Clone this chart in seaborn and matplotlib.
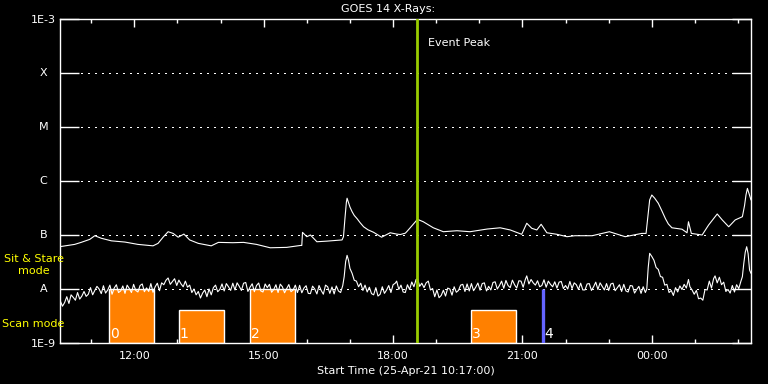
import numpy as np
import pandas as pd
import matplotlib
matplotlib.use("Agg")
import matplotlib.pyplot as plt
import matplotlib.dates as mdates
import matplotlib.ticker as mticker
import matplotlib.transforms as mtransforms
import seaborn as sns

# Data, time in minutes after start
START = pd.Timestamp("2021-04-25 10:17:00")
END_MIN = 961

long_minutes = [0, 20, 29, 41, 48, 57, 71, 90, 108, 129,
                136, 143, 150, 157, 164, 172, 180, 192, 210, 220,
                240, 255, 273, 292, 315, 334, 336, 337, 343, 348,
                357, 371, 392, 394, 396, 398, 399, 403, 406, 409,
                413, 417, 422, 428, 436, 447, 459, 468, 473, 480,
                482, 489, 497, 505, 519, 533, 552, 570, 594, 612,
                626, 642, 649, 656, 663, 669, 677, 691, 705, 716,
                740, 764, 786, 809, 815, 820, 823, 827, 832, 837,
                842, 846, 851, 865, 872, 874, 878, 893, 902, 914,
                921, 930, 939, 949, 952, 954, 956, 958, 961]
long_flux_e8 = [6.1, 6.7, 7.3, 8.3, 9.7, 8.7, 7.8, 7.4, 6.7, 6.3,
                7.0, 9.1, 11.5, 10.7, 9.1, 10.4, 8.1, 7.0, 6.3, 7.3,
                7.2, 7.3, 6.7, 5.8, 5.9, 6.4, 6.4, 11.2, 9.3, 10.0,
                7.5, 7.7, 8.1, 9.3, 20.0, 40.0, 48.0, 33.0, 27.0, 23.0,
                20.0, 17.0, 14.2, 12.5, 11.2, 9.1, 11.0, 10.4, 10.2, 10.8,
                11.5, 14.7, 19.5, 17.6, 13.6, 11.5, 12.0, 11.5, 12.9, 13.6,
                12.4, 10.3, 16.5, 13.3, 12.4, 15.8, 11.0, 10.3, 9.3, 9.7,
                9.7, 11.5, 9.3, 10.7, 10.7, 44.5, 55.0, 48.0, 38.7, 28.0,
                20.0, 16.0, 13.6, 12.8, 11.0, 17.6, 10.7, 10.0, 15.3, 24.5,
                19.0, 14.2, 19.0, 21.8, 35.0, 55.0, 73.0, 60.0, 44.5]

short_minutes = [0, 3, 6, 9, 12, 15, 18, 21, 24, 27, 30, 33, 36, 39,
                 42, 45, 48, 51, 54, 57, 60, 63, 66, 69, 72, 75, 78, 81, 84, 87,
                 90, 93, 96, 99, 102, 105, 108, 111, 114, 117, 120, 123, 126, 129, 132, 135, 138,
                 141, 144, 147, 150, 153, 156, 159, 162, 165, 168, 171, 174,
                 177, 180, 183, 186, 189, 192, 195, 198, 201, 204, 207, 210,
                 213, 216, 219, 222, 225, 228, 231, 234, 237, 240,
                 243, 246, 249, 252, 255, 258, 261, 264, 267, 270, 273, 276, 279, 282, 285,
                 288, 291, 294, 297, 300, 303, 306, 309, 312, 315, 318, 321, 324, 327, 330,
                 333, 336, 339, 342, 345, 348, 351, 354, 357, 360, 363, 366, 369, 372, 375,
                 378, 381, 384, 387, 390, 393,
                 395, 397, 399, 401, 403, 406, 409, 412, 415, 418, 421, 424, 427, 430, 433,
                 436, 439, 442, 445, 448, 451, 454, 457, 460, 463, 466, 468, 471, 474, 477,
                 480, 483, 486, 489, 492, 495, 497, 500, 503, 506, 509, 512, 515, 518, 521,
                 524, 527, 530, 533, 536, 539, 542, 545, 548, 551, 554, 557, 560, 563, 566,
                 569, 572, 575, 578, 581, 584, 587, 590, 593, 596, 599, 602, 605, 608, 611,
                 614, 617, 620, 623, 626, 629, 632, 635, 638, 641, 644, 647, 649, 652, 655,
                 658, 661, 664, 667, 670, 673, 676, 679, 682, 685, 688, 691, 694, 697, 700,
                 703, 706, 709, 712, 715, 718, 721, 724, 727, 730, 733, 736, 739, 742, 745,
                 748, 751, 754, 757, 760, 763, 766, 769, 772, 775, 778, 781, 784, 787, 790,
                 793, 796, 799, 802, 805, 808, 811, 814, 816,
                 818, 820, 823, 826, 829, 832, 835, 838, 841, 844, 847, 850, 853, 856, 859,
                 862, 865, 868, 871, 874, 876, 879, 882, 885, 888, 891, 894, 897, 900, 903,
                 906, 909, 911, 914, 917, 920, 923, 926, 929, 932, 935, 938, 941, 944, 947,
                 949, 951, 953, 955, 957, 959, 961]
short_flux_e9 = [6.0, 4.8, 5.6, 7.2, 5.4, 7.8, 7.0, 6.2, 8.6, 6.5, 7.4, 9.0, 7.3, 8.0,
                 10.6, 7.8, 9.4, 11.2, 10.0, 8.2, 11.5, 8.4, 9.6, 11.8, 8.0, 10.4, 12.0, 8.6, 9.2, 11.4,
                 8.3, 11.8, 10.2, 8.6, 12.2, 9.4, 8.8, 11.6, 12.4, 8.9, 10.5, 9.0, 12.6, 8.7, 11.0, 12.8, 9.3,
                 13.0, 12.0, 14.5, 16.0, 12.2, 13.8, 15.5, 11.6, 14.6, 12.4, 11.0, 14.0,
                 10.8, 11.8, 8.6, 10.0, 7.8, 9.0, 6.8, 8.4, 9.6, 7.2, 10.0, 7.8,
                 10.6, 11.8, 8.9, 9.8, 12.4, 9.2, 12.6, 11.0, 9.4, 12.8,
                 9.6, 13.0, 11.2, 9.4, 12.8, 13.2, 9.0, 10.8, 12.5, 8.9, 11.6, 12.9, 9.2, 8.8, 12.4,
                 10.6, 12.2, 8.7, 9.8, 12.0, 8.6, 12.3, 11.0, 8.5, 10.2, 12.1, 8.9, 9.6, 11.8, 8.6,
                 11.7, 8.5, 10.4, 11.5, 8.3, 8.2, 11.3, 10.0, 8.1, 11.6, 9.4, 8.0, 11.8, 11.0, 8.3,
                 10.9, 8.1, 11.4, 9.2, 8.6, 11.6,
                 17.0, 32.0, 42.0, 34.0, 24.0, 19.5, 14.5, 14.0, 11.0, 12.8, 9.4, 11.8, 8.8, 10.8, 8.2,
                 7.8, 10.6, 7.4, 8.0, 11.0, 8.3, 9.6, 11.6, 8.6, 12.0, 12.8, 14.0, 9.8, 11.8, 8.8,
                 8.6, 12.0, 9.8, 13.5, 11.0, 15.0, 15.5, 11.2, 12.8, 10.6, 13.0, 14.0, 9.6, 10.2, 7.2,
                 9.6, 6.9, 7.6, 9.5, 7.4, 10.4, 10.0, 7.7, 11.0, 8.7, 9.4, 11.8, 12.2, 9.0, 12.4,
                 9.2, 12.6, 9.3, 10.8, 12.9, 9.5, 12.6, 13.0, 9.2, 11.2, 9.6, 13.2, 13.6, 10.0, 11.6,
                 14.0, 10.3, 14.4, 11.6, 10.6, 14.6, 12.0, 10.4, 14.2, 14.0, 10.8, 15.0, 17.5, 12.4, 15.0,
                 13.0, 11.8, 14.2, 11.0, 11.6, 14.8, 10.8, 14.0, 12.2, 11.0, 13.6, 10.4, 13.4, 13.8, 10.2,
                 11.6, 10.0, 13.8, 10.2, 13.0, 12.0, 9.8, 12.8, 9.6, 9.6, 12.4, 12.6, 9.4, 11.0, 13.4,
                 9.8, 13.0, 11.2, 9.6, 12.6, 9.4, 12.4, 12.8, 9.3, 10.6, 12.0, 9.0, 12.2, 9.2, 8.8,
                 11.6, 11.4, 8.4, 9.8, 11.2, 8.3, 11.0, 8.6, 10.0,
                 25.0, 45.8, 40.0, 34.0, 25.0, 23.0, 17.0, 16.5, 11.8, 12.2, 8.6, 9.4, 7.6, 10.6, 8.8,
                 11.4, 9.8, 12.2, 10.4, 15.0, 11.0, 9.6, 8.0, 9.4, 6.6, 6.8, 6.2, 9.8, 9.6, 14.0,
                 10.4, 15.6, 17.5, 13.0, 16.5, 12.0, 13.4, 9.0, 9.8, 8.4, 11.6, 8.8, 12.0, 10.2, 14.0,
                 16.9, 30.0, 48.0, 60.7, 45.0, 22.5, 19.5]

# Observation modes (orange blocks), minutes after start
mode_labels = ["0", "1", "2", "3"]
mode_start_min = [68, 165, 264, 572]
mode_end_min = [130, 228, 327, 634]
mode_top_flux = [1.0e-8, 4.1e-9, 1.0e-8, 4.1e-9]

event_peak_min = 496
blue_mark_min = 671

level_flux = [1e-9, 1e-8, 1e-7, 1e-6, 1e-5, 1e-4, 1e-3]
level_letters = ["", "A", "B", "C", "M", "X", ""]

sns.set_style("ticks", {"axes.facecolor": "black", "figure.facecolor": "black",
                        "axes.edgecolor": "white", "text.color": "white"})
plt.rcParams["font.family"] = ["DejaVu Sans"]

W, H = 768, 384
fig = plt.figure(figsize=(W / 100, H / 100), dpi=100, facecolor="black")
ax = fig.add_axes([60.3 / W, 41 / H, 690.7 / W, 324 / H])
ax.set_facecolor("black")


def to_num(minutes):
    return mdates.date2num(START + pd.to_timedelta(minutes, unit="min"))


df_long = pd.DataFrame({"time": START + pd.to_timedelta(long_minutes, unit="min"),
                        "flux": np.array(long_flux_e8) * 1e-8})
df_short = pd.DataFrame({"time": START + pd.to_timedelta(short_minutes, unit="min"),
                         "flux": np.array(short_flux_e9) * 1e-9})

# dotted class levels
for lvl in level_flux[1:-1]:
    ax.axhline(lvl, color="white", lw=1.0, ls=(0, (0.75, 3.6)),
               antialiased=False, zorder=0.5)

# orange mode blocks
starts = to_num(mode_start_min)
widths = to_num(mode_end_min) - starts
ax.bar(starts, np.array(mode_top_flux) - 1e-9, width=widths, bottom=1e-9,
       align="edge", color="#ff8000", zorder=1)
for lab, s in zip(mode_labels, mode_start_min):
    ax.text(to_num(s + 1.2), 1.25e-9, lab, color="white", fontsize=10,
            ha="left", va="baseline", zorder=4)

sns.lineplot(data=df_long, x="time", y="flux", color="white", lw=0.8,
             estimator=None, sort=False, ax=ax, zorder=3)
sns.lineplot(data=df_short, x="time", y="flux", color="white", lw=0.8,
             estimator=None, sort=False, ax=ax, zorder=3)

# event peak and blue marker
ax.axvline(to_num(event_peak_min), color="#99cc00", lw=2, zorder=4)
ax.text(to_num(event_peak_min + 15), 3.6e-4, "Event Peak", color="white",
        fontsize=8, ha="left", va="center")
ax.vlines(to_num(blue_mark_min), 1e-9, 1e-8, color="#6464ff", lw=2.4, zorder=4)
ax.text(to_num(blue_mark_min + 2.5), 1.25e-9, "4", color="white", fontsize=10,
        ha="left", va="baseline", zorder=4)

ax.set_yscale("log")
ax.set_ylim(1e-9, 1e-3)
ax.set_xlim(to_num(0), to_num(END_MIN))

ax.set_yticks(level_flux)
ax.set_yticklabels(["1E-9", "", "", "", "", "", "1E-3"])
ax.yaxis.set_minor_locator(mticker.NullLocator())
ax.tick_params(axis="y", which="major", direction="in", length=14, width=1,
               left=True, right=True, color="white", labelcolor="white",
               labelsize=8, pad=3)
ytrans = mtransforms.blended_transform_factory(ax.transAxes, ax.transData)
for lvl, letter in zip(level_flux, level_letters):
    if letter:
        ax.text(-17 / 690.7, lvl, letter, transform=ytrans, color="white",
                fontsize=8, ha="center", va="center")

ax.xaxis.set_major_locator(mdates.HourLocator(byhour=range(0, 24, 3)))
ax.xaxis.set_minor_locator(mdates.HourLocator())
ax.xaxis.set_major_formatter(mdates.DateFormatter("%H:%M"))
ax.tick_params(axis="x", which="major", direction="in", length=6, width=1,
               top=True, bottom=True, color="white", labelcolor="white",
               labelsize=8, pad=6)
ax.tick_params(axis="x", which="minor", direction="in", length=3, width=1,
               top=True, bottom=True, color="white")
ax.set_xlabel("Start Time (25-Apr-21 10:17:00)", color="white", fontsize=8,
              labelpad=3)
ax.set_ylabel("")

for sp in ax.spines.values():
    sp.set_color("white")
    sp.set_linewidth(1)

fig.text(388 / W, 1 - 9 / H, "GOES 14 X-Rays:", color="white", fontsize=8,
         ha="center", va="center")
fig.text(34 / W, 1 - 259 / H, "Sit & Stare", color="#ffff00", fontsize=8,
         ha="center", va="center")
fig.text(34 / W, 1 - 271.5 / H, "mode", color="#ffff00", fontsize=8,
         ha="center", va="center")
fig.text(2 / W, 1 - 324 / H, "Scan mode", color="#ffff00", fontsize=8,
         ha="left", va="center")

fig.savefig("out.png", dpi=100, facecolor="black")
